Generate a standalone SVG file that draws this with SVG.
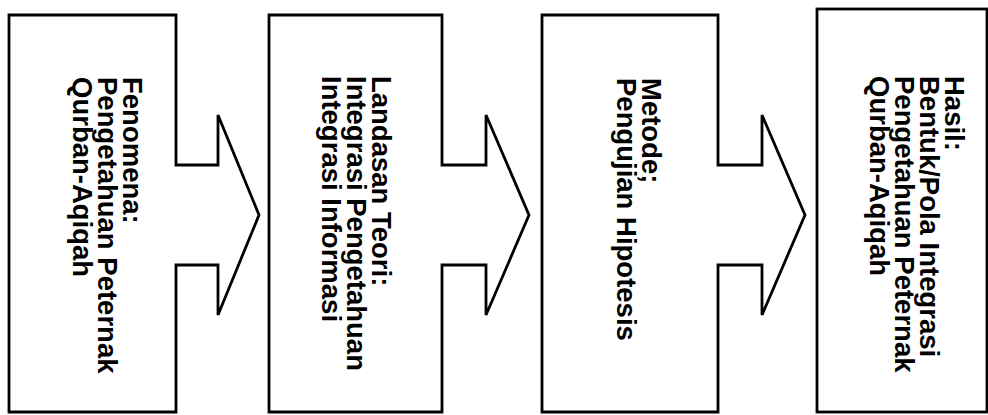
<svg xmlns="http://www.w3.org/2000/svg" width="988" height="415" viewBox="0 0 988 415">
  <style>
    .shape { fill: #ffffff; stroke: #000000; stroke-width: 2.8; stroke-linejoin: miter; }
    .label { font-family: "Liberation Sans", Arial, sans-serif; font-weight: bold; font-size: 27.5px; fill: #000000; }
  </style>
  <rect x="0" y="0" width="988" height="415" fill="#ffffff"/>

  <!-- Step 1: box with block arrow pointing right -->
  <g id="node-fenomena">
    <path class="shape" d="M9,15 H176 V165 H218 V115 L259,215 L218,315 V265 H176 V412 H9 Z"/>
    <text class="label" transform="translate(123,77) rotate(90)">
      <tspan x="0" y="0">Fenomena:</tspan>
      <tspan x="0" dy="25">Pengetahuan Peternak</tspan>
      <tspan x="0" dy="25">Qurban-Aqiqah</tspan>
    </text>
  </g>

  <!-- Step 2 -->
  <g id="node-landasan">
    <path class="shape" d="M269,15 H442 V165 H486 V115 L529,215 L486,315 V265 H442 V412 H269 Z"/>
    <text class="label" transform="translate(372,76) rotate(90)">
      <tspan x="0" y="0">Landasan Teori:</tspan>
      <tspan x="0" dy="25">Integrasi Pengetahuan</tspan>
      <tspan x="0" dy="25">Integrasi Informasi</tspan>
    </text>
  </g>

  <!-- Step 3 -->
  <g id="node-metode">
    <path class="shape" d="M542,15 H718 V165 H762 V115 L805,215 L762,315 V265 H718 V412 H542 Z"/>
    <text class="label" transform="translate(642,78) rotate(90)">
      <tspan x="0" y="0">Metode;</tspan>
      <tspan x="0" dy="25">Pengujian Hipotesis</tspan>
    </text>
  </g>

  <!-- Step 4: result box -->
  <g id="node-hasil">
    <rect class="shape" x="817" y="9" width="170" height="403"/>
    <text class="label" transform="translate(945,76) rotate(90)">
      <tspan x="0" y="0">Hasil:</tspan>
      <tspan x="0" dy="25">Bentuk/Pola Integrasi</tspan>
      <tspan x="0" dy="25">Pengetahuan Peternak</tspan>
      <tspan x="0" dy="25">Qurban-Aqiqah</tspan>
    </text>
  </g>

  <!-- Arrow heads are part of the step shapes above -->
  <g id="connectors"></g>
</svg>
